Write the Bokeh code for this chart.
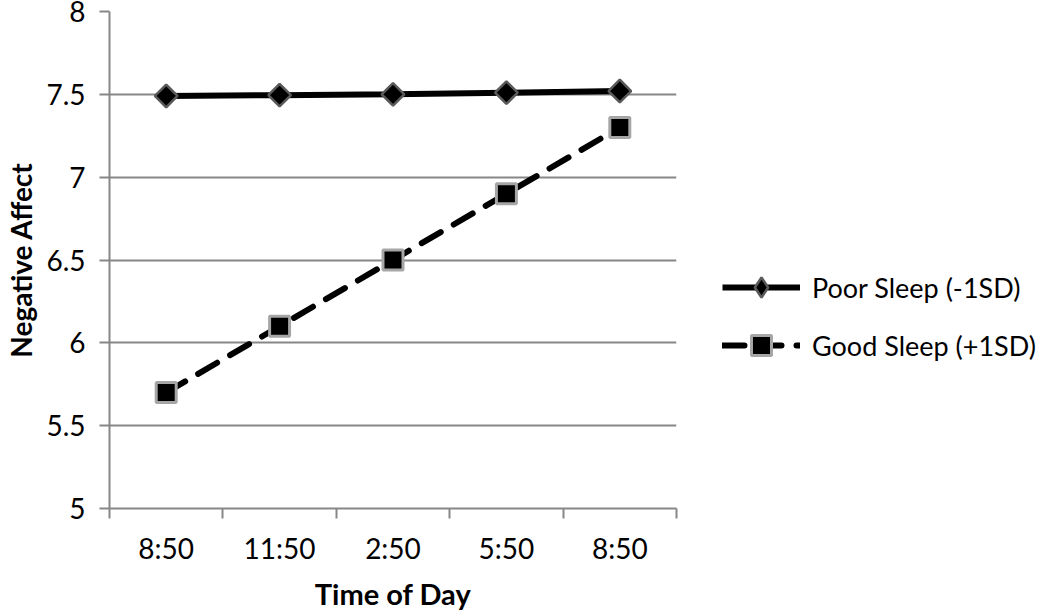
import math
from bokeh.plotting import figure
from bokeh.models import FixedTicker, Legend, LegendItem, Range1d
from bokeh.embed import file_html
from bokeh.resources import INLINE

times = ["8:50", "11:50", "2:50", "5:50", "8:50"]
poor_sleep = [7.49, 7.495, 7.50, 7.51, 7.52]
good_sleep = [5.70, 6.10, 6.50, 6.90, 7.30]
y_ticks = [5, 5.5, 6, 6.5, 7, 7.5, 8]
y_tick_labels = ["5", "5.5", "6", "6.5", "7", "7.5", "8"]

FONT = "Lato"
GRID = "#878787"
LEFT, TOP, FW, FH = 109, 11, 567, 497

x = [i + 0.5 for i in range(len(times))]

p = figure(output_backend="svg", toolbar_location=None,
           x_range=Range1d(0, len(times)), y_range=Range1d(5, 8))
p.frame_width = FW
p.frame_height = FH
p.min_border_left = LEFT
p.min_border_top = TOP
p.min_border_right = 0
p.min_border_bottom = 0
p.outline_line_color = None
p.background_fill_color = "white"
p.border_fill_color = "white"

# grid
p.xgrid.grid_line_color = None
p.ygrid.grid_line_color = GRID
p.ygrid.grid_line_width = 2

# y axis
p.yaxis.ticker = FixedTicker(ticks=y_ticks)
p.yaxis.major_label_overrides = {t: l for t, l in zip(y_ticks, y_tick_labels)}
p.yaxis.minor_tick_line_color = None
p.yaxis.major_tick_out = 10
p.yaxis.major_tick_in = 0
p.yaxis.major_tick_line_color = GRID
p.yaxis.major_tick_line_width = 2
p.yaxis.axis_line_color = GRID
p.yaxis.axis_line_width = 2
p.yaxis.major_label_standoff = 14
p.yaxis.major_label_text_font = FONT
p.yaxis.major_label_text_font_size = "28px"
p.yaxis.major_label_text_color = "black"
p.yaxis.axis_label = "Negative Affect"
p.yaxis.axis_label_text_font = FONT
p.yaxis.axis_label_text_font_style = "bold"
p.yaxis.axis_label_text_font_size = "28px"
p.yaxis.axis_label_standoff = 5
p.yaxis.axis_label_text_color = "black"

# x axis
p.xaxis.ticker = FixedTicker(ticks=x, minor_ticks=list(range(len(times) + 1)))
p.xaxis.major_label_overrides = {xi: t for xi, t in zip(x, times)}
p.xaxis.major_tick_out = 0
p.xaxis.major_tick_in = 0
p.xaxis.minor_tick_out = 10
p.xaxis.minor_tick_in = 0
p.xaxis.minor_tick_line_color = GRID
p.xaxis.minor_tick_line_width = 2
p.xaxis.axis_line_color = GRID
p.xaxis.axis_line_width = 2
p.xaxis.major_label_standoff = 12
p.xaxis.major_label_text_font = FONT
p.xaxis.major_label_text_font_size = "28px"
p.xaxis.major_label_text_color = "black"
p.xaxis.axis_label = "Time of Day"
p.xaxis.axis_label_text_font = FONT
p.xaxis.axis_label_text_font_style = "bold"
p.xaxis.axis_label_text_font_size = "29px"
p.xaxis.axis_label_standoff = 8
p.xaxis.axis_label_text_color = "black"

# series
l1 = p.line(x, poor_sleep, line_color="black", line_width=6)
m1 = p.scatter(x, poor_sleep, marker="square", angle=math.pi / 4, size=16,
               fill_color="black", line_color="#5a5a5a", line_width=2.5)
l2 = p.line(x, good_sleep, line_color="black", line_width=6, line_dash="22 15",
            line_cap="round")
m2 = p.scatter(x, good_sleep, marker="square", size=20, fill_color="black",
               line_color="#a6a6a6", line_width=3)

# legend-only diamond (legend glyphs are drawn unrotated); hidden in the plot
m1_leg = p.scatter(x, poor_sleep, marker="diamond", fill_color="black",
                   line_color="#5a5a5a", line_width=2.5, visible=False)

legend = Legend(items=[LegendItem(label="Poor Sleep (-1SD)", renderers=[l1, m1_leg]),
                       LegendItem(label="Good Sleep (+1SD)", renderers=[l2, m2])],
                location=(46, 138))
legend.glyph_width = 78
legend.glyph_height = 50
legend.label_height = 50
legend.spacing = 8
legend.padding = 0
legend.margin = 0
legend.label_standoff = 12
legend.border_line_color = None
legend.background_fill_alpha = 0
legend.inactive_fill_alpha = 0
legend.label_text_font = FONT
legend.label_text_font_size = "27px"
legend.label_text_color = "black"
p.add_layout(legend, "right")

open("out.html", "w").write(file_html(p, INLINE))
